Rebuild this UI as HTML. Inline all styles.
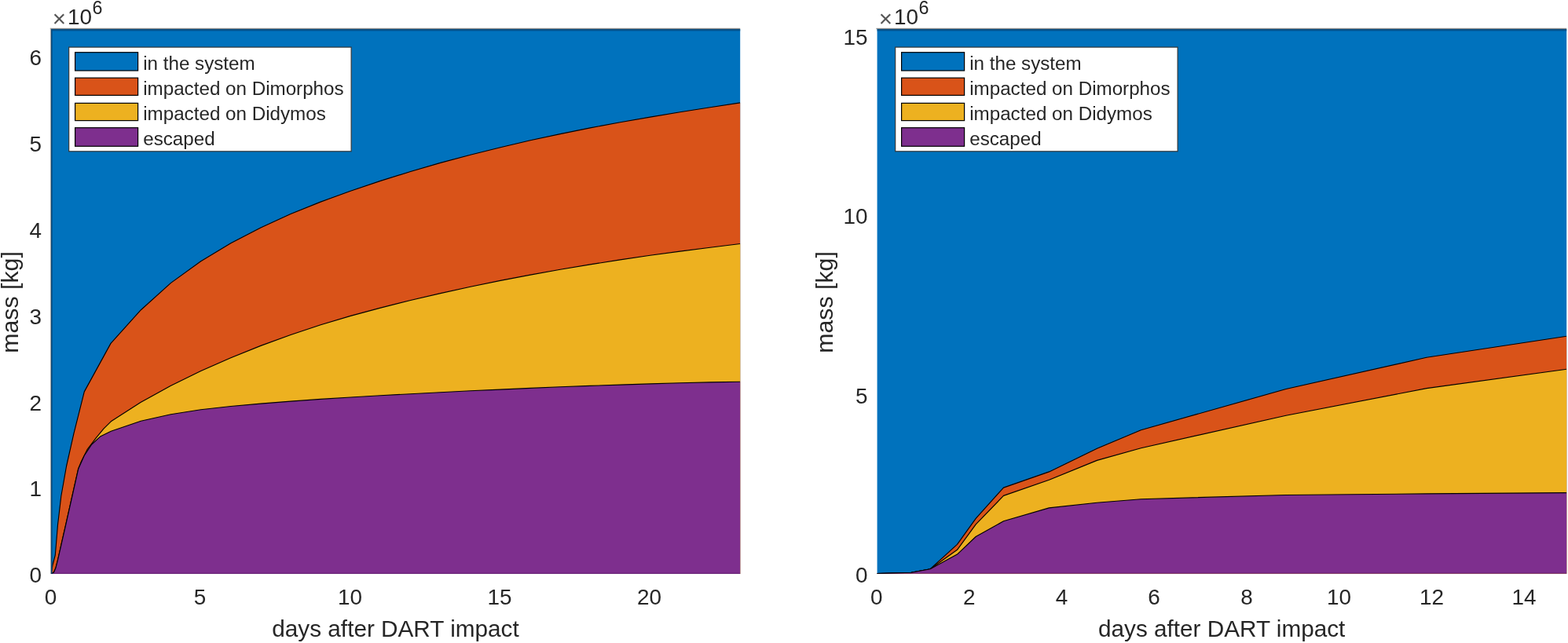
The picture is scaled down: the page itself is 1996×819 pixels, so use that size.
<!DOCTYPE html>
<html lang="en">
<head>
<meta charset="utf-8">
<title>Ejecta mass budget after DART impact</title>
<style>
html,body{margin:0;padding:0;background:#fff;}
body{width:1996px;height:819px;overflow:hidden;}
svg{display:block;}
text{font-family:"Liberation Sans",Arial,Helvetica,sans-serif;fill:#262626;}
.t{font-size:27.9px;}
.l{font-size:24.2px;}
.a{font-size:29.72px;}
.ay{font-size:30.3px;}
.sup{font-size:23.3px;}
.x{font-size:29.6px;fill:#555;}
</style>
</head>
<body>
<svg width="1996" height="819" viewBox="0 0 1996 819">
<rect x="0" y="0" width="1996" height="819" fill="#fff"/>
<g id="left-plot">
<clipPath id="c65"><rect x="63.8" y="35.6" width="878.4" height="695.4"/></clipPath>
<g clip-path="url(#c65)">
<rect x="65.0" y="37.0" width="885.2" height="701.8" fill="#0072BD"/>
<polygon points="65.0,736.8 65.0,730.8 67.0,719.7 70.3,707.0 73.5,668.5 77.8,632.0 84.6,593.5 94.0,551.9 107.3,498.9 141.0,437.4 179.4,394.7 217.5,360.4 255.7,332.7 293.8,309.7 331.9,289.9 370.0,272.5 408.2,257.1 446.3,243.3 484.4,230.4 522.6,218.5 560.7,207.4 598.8,197.2 637.0,187.7 675.1,178.8 713.2,170.6 751.3,162.9 789.5,155.8 827.6,149.1 865.7,142.7 903.9,136.7 942.2,130.9 948.2,130.9 948.2,736.8" fill="#D95319"/><polyline points="65.0,730.8 67.0,719.7 70.3,707.0 73.5,668.5 77.8,632.0 84.6,593.5 94.0,551.9 107.3,498.9 141.0,437.4 179.4,394.7 217.5,360.4 255.7,332.7 293.8,309.7 331.9,289.9 370.0,272.5 408.2,257.1 446.3,243.3 484.4,230.4 522.6,218.5 560.7,207.4 598.8,197.2 637.0,187.7 675.1,178.8 713.2,170.6 751.3,162.9 789.5,155.8 827.6,149.1 865.7,142.7 903.9,136.7 942.2,130.9" fill="none" stroke="#000" stroke-width="1.15" stroke-linejoin="round"/>
<polygon points="65.0,736.8 65.0,730.8 68.5,729.0 70.9,723.6 73.5,713.3 77.9,694.0 83.7,668.5 91.2,635.0 99.7,597.0 103.5,587.8 111.0,572.7 122.4,557.6 131.9,546.2 141.3,536.8 179.4,512.3 217.5,491.2 255.7,472.5 293.8,455.7 331.9,440.4 370.0,426.5 408.2,413.8 446.3,402.4 484.4,392.1 522.6,382.5 560.7,373.6 598.8,365.2 637.0,357.4 675.1,350.1 713.2,343.3 751.3,336.9 789.5,330.9 827.6,325.3 865.7,320.1 903.9,315.2 942.2,310.5 948.2,310.5 948.2,736.8" fill="#EDB120"/><polyline points="65.0,730.8 68.5,729.0 70.9,723.6 73.5,713.3 77.9,694.0 83.7,668.5 91.2,635.0 99.7,597.0 103.5,587.8 111.0,572.7 122.4,557.6 131.9,546.2 141.3,536.8 179.4,512.3 217.5,491.2 255.7,472.5 293.8,455.7 331.9,440.4 370.0,426.5 408.2,413.8 446.3,402.4 484.4,392.1 522.6,382.5 560.7,373.6 598.8,365.2 637.0,357.4 675.1,350.1 713.2,343.3 751.3,336.9 789.5,330.9 827.6,325.3 865.7,320.1 903.9,315.2 942.2,310.5" fill="none" stroke="#000" stroke-width="1.15" stroke-linejoin="round"/>
<polygon points="65.0,736.8 65.0,730.8 68.5,729.0 70.9,723.6 73.5,713.3 77.9,694.0 83.7,668.5 91.2,635.0 99.7,597.3 107.3,580.3 116.8,566.0 128.1,555.7 141.3,549.2 179.4,536.3 217.5,527.7 255.7,521.7 293.8,517.5 331.9,514.1 370.0,511.1 408.2,508.4 446.3,506.0 484.4,503.7 522.6,501.7 560.7,499.7 598.8,497.8 637.0,496.1 675.1,494.4 713.2,492.8 751.3,491.4 789.5,490.1 827.6,488.9 865.7,487.8 903.9,486.9 942.2,486.2 948.2,486.2 948.2,736.8" fill="#7E2F8E"/><polyline points="65.0,730.8 68.5,729.0 70.9,723.6 73.5,713.3 77.9,694.0 83.7,668.5 91.2,635.0 99.7,597.3 107.3,580.3 116.8,566.0 128.1,555.7 141.3,549.2 179.4,536.3 217.5,527.7 255.7,521.7 293.8,517.5 331.9,514.1 370.0,511.1 408.2,508.4 446.3,506.0 484.4,503.7 522.6,501.7 560.7,499.7 598.8,497.8 637.0,496.1 675.1,494.4 713.2,492.8 751.3,491.4 789.5,490.1 827.6,488.9 865.7,487.8 903.9,486.9 942.2,486.2" fill="none" stroke="#000" stroke-width="1.15" stroke-linejoin="round"/>
<rect x="63.0" y="35.6" width="885.2" height="1.6" fill="#8e8e8e"/>
<rect x="65.0" y="37.2" width="885.2" height="1.6" fill="#0b4877"/>
<rect x="65.0" y="38.8" width="885.2" height="0.8" fill="#005c9f"/>
<rect x="63.8" y="35.8" width="1.3" height="697.8" fill="#a9a9a9"/>
<rect x="65.1" y="37.2" width="1.5" height="697.8" fill="#0b4877"/>
<rect x="65.0" y="729.6" width="885.2" height="1.6" fill="#000" opacity="0.12"/>
</g>
<text class="t" x="64.5" y="769.9" text-anchor="middle">0</text>
<text class="t" x="254.5" y="769.9" text-anchor="middle">5</text>
<text class="t" x="445.5" y="769.9" text-anchor="middle">10</text>
<text class="t" x="636" y="769.9" text-anchor="middle">15</text>
<text class="t" x="826.5" y="769.9" text-anchor="middle">20</text>
<text class="t" x="53.0" y="742.3" text-anchor="end">0</text>
<text class="t" x="53.0" y="632.45" text-anchor="end">1</text>
<text class="t" x="53.0" y="522.6" text-anchor="end">2</text>
<text class="t" x="53.0" y="412.75" text-anchor="end">3</text>
<text class="t" x="53.0" y="302.9" text-anchor="end">4</text>
<text class="t" x="53.0" y="193.05" text-anchor="end">5</text>
<text class="t" x="53.0" y="83.2" text-anchor="end">6</text>
<text class="x" x="66.8" y="33.9">×</text>
<text class="t" x="85.9" y="31.3">10</text>
<text class="sup" x="117.4" y="17.7">6</text>
<rect x="87.7" y="60.1" width="359.4" height="132.7" fill="#fff" stroke="#333" stroke-width="1.15"/>
<rect x="95.6" y="66.7" width="80" height="23.3" fill="#0072BD" stroke="#000" stroke-width="1.2"/>
<text class="l" x="182.2" y="89.09">in the system</text>
<rect x="95.6" y="99.2" width="80" height="22.2" fill="#D95319" stroke="#000" stroke-width="1.2"/>
<text class="l" x="182.2" y="121.21">impacted on Dimorphos</text>
<rect x="95.6" y="131.4" width="80" height="22.2" fill="#EDB120" stroke="#000" stroke-width="1.2"/>
<text class="l" x="182.2" y="153.33">impacted on Didymos</text>
<rect x="95.6" y="162.7" width="80" height="23.6" fill="#7E2F8E" stroke="#000" stroke-width="1.2"/>
<text class="l" x="182.2" y="185.45">escaped</text>
<text class="a" x="503.5" y="811" text-anchor="middle">days after DART impact</text>
<text class="ay" transform="translate(22.6,385) rotate(-90)" text-anchor="middle">mass [kg]</text>
</g>
<g id="right-plot">
<clipPath id="c1116"><rect x="1115.4" y="35.6" width="878.8" height="695.2"/></clipPath>
<g clip-path="url(#c1116)">
<rect x="1116.6" y="37.0" width="885.6000000000001" height="701.6" fill="#0072BD"/>
<polygon points="1116.6,736.6 1116.6,730.6 1159.9,729.3 1184.2,724.7 1218.5,693.4 1242.2,660.3 1277.5,621.1 1335.5,600.9 1396.5,571.3 1452.4,547.8 1637.0,495.5 1816.0,455.3 1994.2,428.2 2000.2,428.2 2000.2,736.6" fill="#D95319"/><polyline points="1116.6,730.6 1159.9,729.3 1184.2,724.7 1218.5,693.4 1242.2,660.3 1277.5,621.1 1335.5,600.9 1396.5,571.3 1452.4,547.8 1637.0,495.5 1816.0,455.3 1994.2,428.2" fill="none" stroke="#000" stroke-width="1.15" stroke-linejoin="round"/>
<polygon points="1116.6,736.6 1116.6,730.6 1159.9,729.3 1184.2,724.7 1218.5,700.3 1242.2,667.8 1277.5,631.4 1335.5,611.3 1396.5,586.4 1452.4,570.7 1637.0,529.3 1816.0,494.6 1994.2,470.2 2000.2,470.2 2000.2,736.6" fill="#EDB120"/><polyline points="1116.6,730.6 1159.9,729.3 1184.2,724.7 1218.5,700.3 1242.2,667.8 1277.5,631.4 1335.5,611.3 1396.5,586.4 1452.4,570.7 1637.0,529.3 1816.0,494.6 1994.2,470.2" fill="none" stroke="#000" stroke-width="1.15" stroke-linejoin="round"/>
<polygon points="1116.6,736.6 1116.6,730.6 1159.9,729.3 1184.2,724.7 1218.5,706.1 1242.2,683.5 1277.5,663.8 1335.5,646.9 1396.5,640.2 1452.4,635.7 1637.0,630.5 1816.0,628.9 1994.2,627.6 2000.2,627.6 2000.2,736.6" fill="#7E2F8E"/><polyline points="1116.6,730.6 1159.9,729.3 1184.2,724.7 1218.5,706.1 1242.2,683.5 1277.5,663.8 1335.5,646.9 1396.5,640.2 1452.4,635.7 1637.0,630.5 1816.0,628.9 1994.2,627.6" fill="none" stroke="#000" stroke-width="1.15" stroke-linejoin="round"/>
<rect x="1114.6" y="35.6" width="885.6000000000001" height="1.6" fill="#8e8e8e"/>
<rect x="1116.6" y="37.2" width="885.6000000000001" height="1.6" fill="#0b4877"/>
<rect x="1116.6" y="38.8" width="885.6000000000001" height="0.8" fill="#005c9f"/>
<rect x="1116.6" y="729.4" width="885.6000000000001" height="1.6" fill="#000" opacity="0.12"/>
</g>
<text class="t" x="1115.8" y="769.9" text-anchor="middle">0</text>
<text class="t" x="1233.8" y="769.9" text-anchor="middle">2</text>
<text class="t" x="1351.5" y="769.9" text-anchor="middle">4</text>
<text class="t" x="1469" y="769.9" text-anchor="middle">6</text>
<text class="t" x="1587" y="769.9" text-anchor="middle">8</text>
<text class="t" x="1704.5" y="769.9" text-anchor="middle">10</text>
<text class="t" x="1822.5" y="769.9" text-anchor="middle">12</text>
<text class="t" x="1940" y="769.9" text-anchor="middle">14</text>
<text class="t" x="1104.6" y="742.2" text-anchor="end">0</text>
<text class="t" x="1104.6" y="513.7" text-anchor="end">5</text>
<text class="t" x="1104.6" y="284.8" text-anchor="end">10</text>
<text class="t" x="1104.6" y="57.1" text-anchor="end">15</text>
<text class="x" x="1118.8" y="33.9">×</text>
<text class="t" x="1137.9" y="31.3">10</text>
<text class="sup" x="1169.4" y="17.7">6</text>
<rect x="1139.7" y="60.1" width="359.4" height="132.7" fill="#fff" stroke="#333" stroke-width="1.15"/>
<rect x="1147.6" y="66.7" width="80" height="23.3" fill="#0072BD" stroke="#000" stroke-width="1.2"/>
<text class="l" x="1234.2" y="89.09">in the system</text>
<rect x="1147.6" y="99.2" width="80" height="22.2" fill="#D95319" stroke="#000" stroke-width="1.2"/>
<text class="l" x="1234.2" y="121.21">impacted on Dimorphos</text>
<rect x="1147.6" y="131.4" width="80" height="22.2" fill="#EDB120" stroke="#000" stroke-width="1.2"/>
<text class="l" x="1234.2" y="153.33">impacted on Didymos</text>
<rect x="1147.6" y="162.7" width="80" height="23.6" fill="#7E2F8E" stroke="#000" stroke-width="1.2"/>
<text class="l" x="1234.2" y="185.45">escaped</text>
<text class="a" x="1555.2" y="811" text-anchor="middle">days after DART impact</text>
<text class="ay" transform="translate(1059.6,385) rotate(-90)" text-anchor="middle">mass [kg]</text>
</g>
</svg>
</body>
</html>
